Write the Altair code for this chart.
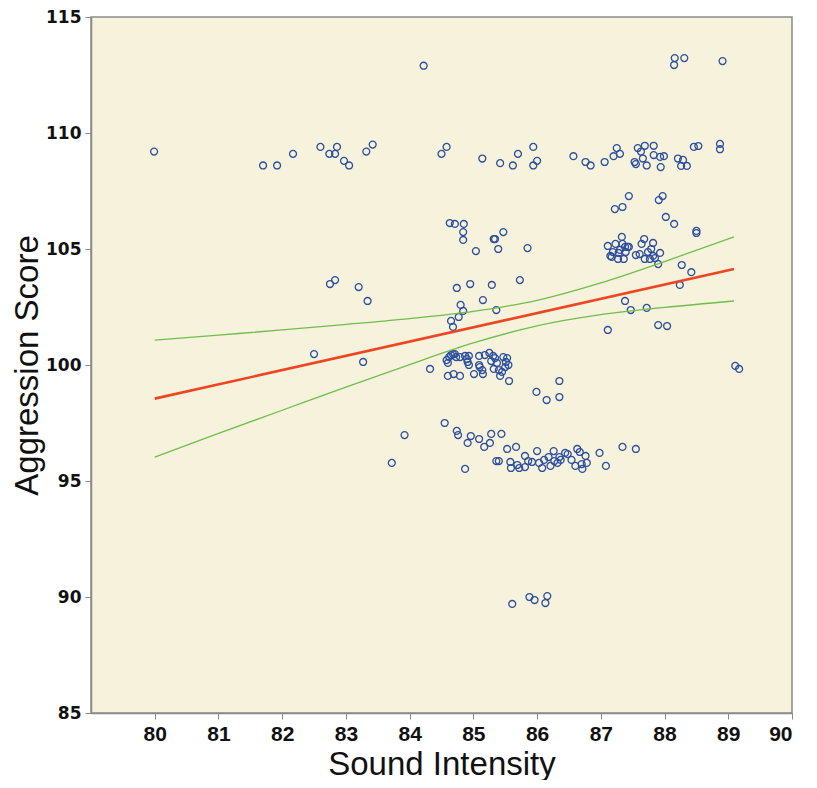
import altair as alt
import pandas as pd

# ---- scatter data (Sound Intensity, Aggression Score) ----
x_vals = [
    # top rows ~109 / ~113
    79.99, 81.70, 81.92, 82.17, 82.60, 82.74, 82.83, 82.86, 82.97, 83.05, 83.32, 83.42,
    84.22, 84.50, 84.58, 85.14, 85.42, 85.62, 85.70, 85.94, 85.94, 86.00, 86.57, 86.76,
    86.84, 87.06, 87.20, 87.25, 87.30, 87.53, 87.55, 87.58, 87.63, 87.66, 87.69, 87.72,
    87.83, 87.83, 87.93, 87.94, 87.99, 88.21, 88.26, 88.29, 88.35, 88.46, 88.53, 88.87,
    88.87, 88.15, 88.16, 88.31, 88.91,
    # cluster ~105 at 87-88
    87.11, 87.15, 87.17, 87.19, 87.23, 87.27, 87.28, 87.30, 87.33, 87.34, 87.36, 87.38,
    87.39, 87.42, 87.44, 87.55, 87.61, 87.64, 87.68, 87.69, 87.74, 87.77, 87.79, 87.82,
    87.82, 87.85, 87.90, 87.93, 88.15, 88.50, 88.50, 88.27, 88.42, 88.24, 87.38, 87.47,
    87.72, 87.11, 87.90, 88.04, 89.11, 89.17, 87.22, 87.34, 87.44, 87.91, 87.97, 88.02,
    # middle 84.6-85.9
    84.63, 84.71, 84.85, 84.84, 84.84, 85.04, 85.32, 85.34, 85.47, 85.39, 85.85, 84.74,
    84.95, 85.29, 85.73, 85.15, 84.80, 84.84, 84.77, 85.36, 84.65, 84.68,
    # left
    82.75, 82.83, 83.20, 83.34, 82.50, 83.27, 84.32, 84.55, 83.92, 84.74, 84.76, 83.72,
    # cluster ~100
    84.58, 84.60, 84.62, 84.65, 84.68, 84.71, 84.73, 84.60, 84.69, 84.79, 84.79, 84.87,
    84.90, 84.91, 84.93, 84.93, 85.01, 85.09, 85.09, 85.10, 85.14, 85.15, 85.18, 85.25,
    85.28, 85.31, 85.32, 85.34, 85.37, 85.40, 85.42, 85.45, 85.47, 85.50, 85.51, 85.53,
    85.55, 85.56, 85.99, 86.15, 86.35, 86.35,
    # cluster ~96
    84.96, 84.91, 85.09, 85.17, 85.26, 85.28, 85.44, 84.87, 85.36, 85.40, 85.53, 85.67,
    85.58, 85.59, 85.69, 85.72, 85.81, 85.81, 85.86, 85.92, 86.00, 86.03, 86.08, 86.11,
    86.18, 86.21, 86.26, 86.27, 86.32, 86.35, 86.37, 86.44, 86.48, 86.54, 86.60, 86.63,
    86.67, 86.70, 86.71, 86.76, 86.78, 86.98, 87.08, 87.34, 87.55,
    # bottom ~90
    85.61, 85.88, 85.96, 86.13, 86.16,
]
y_vals = [
    109.2, 108.6, 108.6, 109.1, 109.4, 109.1, 109.1, 109.4, 108.8, 108.6, 109.2, 109.5,
    112.9, 109.1, 109.4, 108.9, 108.7, 108.6, 109.1, 109.4, 108.6, 108.8, 109.0, 108.75,
    108.6, 108.75, 109.0, 109.35, 109.1, 108.75, 108.66, 109.35, 109.2, 108.9, 109.45, 108.6,
    109.45, 109.05, 108.97, 108.53, 109.0, 108.9, 108.58, 108.84, 108.58, 109.4, 109.44, 109.53,
    109.3, 112.93, 113.23, 113.23, 113.1,
    105.13, 104.70, 104.66, 104.87, 105.22, 104.57, 104.83, 104.96, 105.52, 105.22, 104.57, 105.09,
    104.87, 105.09, 105.09, 104.74, 104.78, 105.22, 105.43, 104.57, 104.87, 104.57, 105.0, 105.26,
    104.70, 104.61, 104.35, 104.83, 106.08, 105.78, 105.69, 104.31, 104.0, 103.45, 102.76, 102.37,
    102.46, 101.51, 101.72, 101.68, 99.96, 99.83, 106.72, 106.81, 107.28, 107.11, 107.28, 106.38,
    106.12, 106.08, 106.08, 105.73, 105.39, 104.91, 105.43, 105.43, 105.73, 105.0, 105.04, 103.32,
    103.49, 103.45, 103.66, 102.8, 102.59, 102.33, 102.07, 102.37, 101.9, 101.64,
    103.49, 103.66, 103.36, 102.76, 100.47, 100.13, 99.83, 97.5, 96.98, 97.16, 96.98, 95.78,
    100.21, 100.09, 100.34, 100.43, 100.47, 100.47, 100.34, 99.53, 99.61, 99.53, 100.34, 100.39,
    100.26, 100.13, 100.0, 100.39, 99.61, 100.39, 100.0, 99.91, 99.78, 99.61, 100.43, 100.52,
    100.17, 100.39, 99.83, 100.30, 100.09, 99.78, 99.53, 99.70, 100.34, 99.91, 100.13, 100.30,
    100.0, 99.31, 98.84, 98.49, 99.31, 98.62,
    96.94, 96.64, 96.81, 96.47, 96.64, 97.03, 97.03, 95.52, 95.86, 95.86, 96.38, 96.47,
    95.82, 95.56, 95.69, 95.56, 96.08, 95.60, 95.86, 95.82, 96.29, 95.78, 95.56, 95.91,
    96.03, 95.65, 96.29, 95.86, 95.78, 96.03, 95.91, 96.21, 96.16, 95.91, 95.65, 96.38,
    96.25, 95.73, 95.52, 96.08, 95.78, 96.21, 95.65, 96.47, 96.38,
    89.7, 90.0, 89.87, 89.74, 90.04,
]

# ---- fit line and confidence band ----
fit_x = [80.0, 89.09]
fit_y = [98.55, 104.14]
band_x = [80.0, 81.0, 82.0, 83.0, 84.0, 85.0, 86.0, 87.0, 88.0, 89.09]
upper_y = [101.07, 101.29, 101.51, 101.75, 102.00, 102.31, 102.79, 103.54, 104.46, 105.52]
lower_y = [96.03, 97.05, 98.05, 99.05, 100.02, 100.95, 101.69, 102.17, 102.48, 102.76]

x_ticks = [80, 81, 82, 83, 84, 85, 86, 87, 88, 89, 90]
y_ticks = [85, 90, 95, 100, 105, 110, 115]

pts = pd.DataFrame({"x": x_vals, "y": y_vals})
fit = pd.DataFrame({"x": fit_x, "y": fit_y})
band = pd.DataFrame({
    "x": band_x + band_x,
    "y": upper_y + lower_y,
    "bound": ["upper"] * len(band_x) + ["lower"] * len(band_x),
})

W, H = 701, 696

x_enc = alt.X(
    "x:Q",
    scale=alt.Scale(domain=[79, 90], nice=False, zero=False),
    axis=alt.Axis(
        values=x_ticks, title="Sound Intensity", grid=False,
        labelFont="Liberation Sans Narrow, Liberation Sans, Arial", labelFontWeight="bold",
        labelFontSize=21, labelColor="#111111", labelPadding=4,
        tickSize=6, tickColor="#8a8a8a", domainColor="#8a8a8a", domainWidth=1.5,
        titleFont="Liberation Sans, Arial", titleFontSize=33, titleFontWeight="normal",
        titleColor="#111111", titleBaseline="alphabetic", titleX=W / 2, titleY=61,
    ),
)
y_enc = alt.Y(
    "y:Q",
    scale=alt.Scale(domain=[85, 115], nice=False, zero=False),
    axis=alt.Axis(
        values=y_ticks, title="Aggression Score", grid=False,
        labelFont="DejaVu Sans", labelFontWeight="bold", labelFontSize=17,
        labelColor="#111111", labelPadding=4,
        tickSize=6, tickColor="#8a8a8a", domainColor="#8a8a8a", domainWidth=1.5,
        titleFont="Liberation Sans, Arial", titleFontSize=33, titleFontWeight="normal",
        titleColor="#111111", titleBaseline="alphabetic", titleAngle=270,
        titleX=-54, titleY=H / 2,
    ),
)

points = alt.Chart(pts).mark_point(
    shape="circle", filled=False, size=48, strokeWidth=1.3, color="#2D4FA0", opacity=1
).encode(x=x_enc, y=y_enc)

bands = alt.Chart(band).mark_line(
    color="#72BD4B", strokeWidth=1.3, interpolate="monotone"
).encode(x=x_enc, y=y_enc, detail="bound:N")

fit_line = alt.Chart(fit).mark_line(color="#EE4523", strokeWidth=2.6).encode(x=x_enc, y=y_enc)

chart = alt.layer(points, bands, fit_line).properties(
    width=W, height=H,
    autosize=alt.AutoSizeParams(type="none"),
    padding={"left": 83, "top": 9, "right": 16, "bottom": 67},
    background="#ffffff",
).configure_view(
    fill="#F6F2DC", stroke="#8a8a8a", strokeWidth=1.5
)

chart.save("out.html", embed_options={"renderer": "svg", "actions": False})
